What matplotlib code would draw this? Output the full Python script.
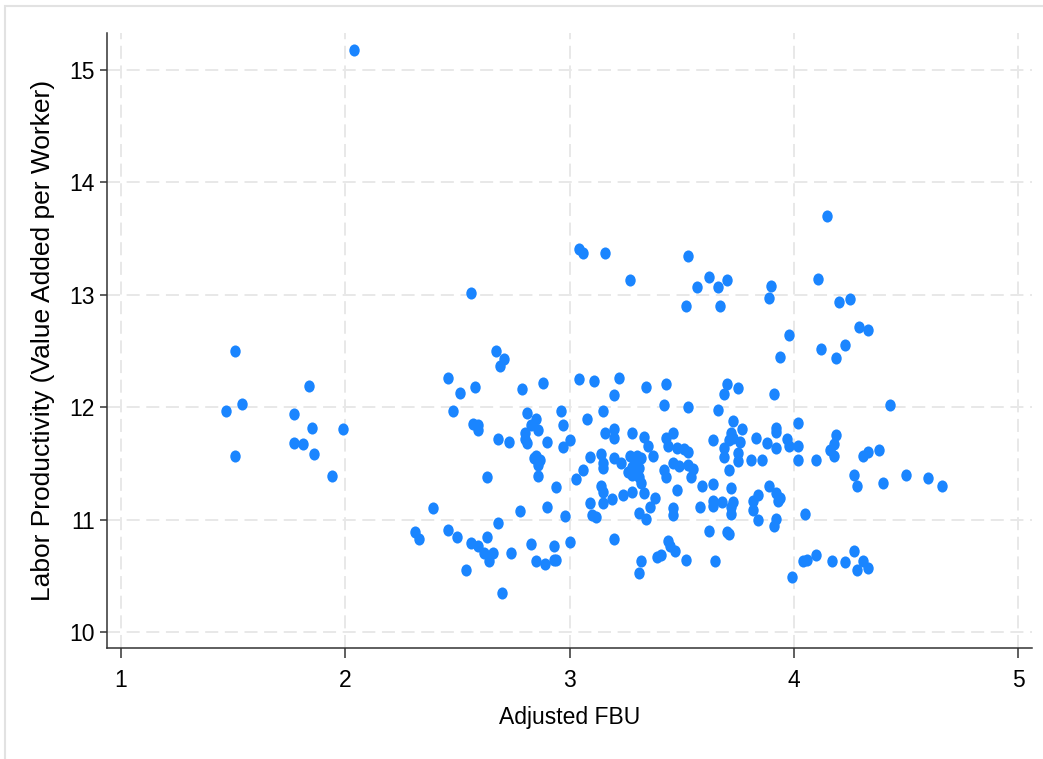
import matplotlib
matplotlib.use("Agg")
import matplotlib.pyplot as plt
import numpy as np
from matplotlib.patches import Rectangle
from matplotlib.path import Path
from matplotlib.transforms import Affine2D

# Adjusted FBU vs labor productivity, one row of pairs per region of the cloud
upper = [
    (2.04, 15.18), (3.04, 13.41), (3.06, 13.37), (3.16, 13.37), (3.27, 13.13),
    (3.53, 13.35), (3.52, 12.90), (3.57, 13.07), (3.62, 13.16), (3.66, 13.07),
    (3.70, 13.13), (3.67, 12.90), (3.90, 13.08), (3.89, 12.97), (4.11, 13.14),
    (4.15, 13.70), (4.20, 12.94), (4.25, 12.96), (4.29, 12.71), (4.33, 12.69),
    (3.98, 12.64), (4.12, 12.52), (4.23, 12.55), (4.19, 12.44), (3.94, 12.45),
    (2.56, 13.02), (2.67, 12.50), (2.71, 12.43), (2.69, 12.37), (4.43, 12.02),
    (3.43, 12.21), (3.34, 12.18), (3.22, 12.26), (3.11, 12.23), (3.04, 12.25),
    (3.20, 12.11), (3.75, 12.17), (3.70, 12.21), (3.69, 12.12), (3.91, 12.12),
    (2.46, 12.26), (2.48, 11.97), (2.51, 12.13), (2.58, 12.18), (2.79, 12.16),
    (2.88, 12.22),
]
left = [
    (1.51, 12.50), (1.47, 11.97), (1.54, 12.03), (1.51, 11.57), (1.84, 12.19),
    (1.77, 11.94), (1.85, 11.82), (1.77, 11.68), (1.81, 11.67), (1.86, 11.58),
    (1.99, 11.81), (1.94, 11.39), (2.39, 11.10),
]
mid_left = [
    (2.57, 11.85), (2.59, 11.84), (2.59, 11.80), (2.68, 11.72), (2.73, 11.69),
    (2.81, 11.95), (2.85, 11.90), (2.83, 11.84), (2.86, 11.80), (2.80, 11.77),
    (2.80, 11.72), (2.81, 11.68), (2.90, 11.69), (2.96, 11.97), (2.85, 11.57),
    (2.87, 11.53), (2.84, 11.55), (2.86, 11.49), (2.86, 11.39), (2.63, 11.38),
    (2.94, 11.29), (2.90, 11.11), (2.78, 11.08),
]
core = [
    (2.97, 11.84), (2.97, 11.65), (3.00, 11.71), (3.08, 11.90), (3.15, 11.97),
    (3.42, 12.02), (3.16, 11.77), (3.20, 11.81), (3.20, 11.73), (3.28, 11.77),
    (3.33, 11.74), (3.35, 11.66), (3.37, 11.57), (3.43, 11.73), (3.46, 11.77),
    (3.44, 11.66), (3.48, 11.64), (3.09, 11.56), (3.14, 11.58), (3.15, 11.50),
    (3.15, 11.46), (3.20, 11.55), (3.23, 11.50), (3.27, 11.57), (3.30, 11.57),
    (3.32, 11.55), (3.28, 11.47), (3.31, 11.46), (3.28, 11.40), (3.31, 11.38),
    (3.32, 11.33), (3.06, 11.44), (3.03, 11.36), (3.14, 11.30), (3.15, 11.25),
    (3.28, 11.25), (3.33, 11.24), (3.24, 11.22), (3.19, 11.18), (3.15, 11.15),
    (3.09, 11.15), (3.38, 11.19), (3.36, 11.11), (3.31, 11.06), (3.10, 11.04),
    (3.12, 11.02), (3.34, 11.01), (3.46, 11.10), (3.46, 11.04), (2.98, 11.03),
    (3.42, 11.44), (3.43, 11.38), (3.46, 11.50), (3.48, 11.26), (3.29, 11.51),
    (3.26, 11.42),
]
mid_right = [
    (3.53, 12.00), (3.66, 11.98), (3.73, 11.88), (3.77, 11.81), (3.72, 11.77),
    (3.73, 11.73), (3.76, 11.69), (3.71, 11.71), (3.83, 11.73), (3.88, 11.68),
    (3.92, 11.64), (3.92, 11.82), (3.92, 11.78), (3.97, 11.72), (3.98, 11.66),
    (4.02, 11.66), (4.02, 11.86), (4.02, 11.53), (3.64, 11.71), (3.53, 11.60),
    (3.51, 11.63), (3.69, 11.64), (3.69, 11.56), (3.75, 11.59), (3.75, 11.52),
    (3.81, 11.53), (3.86, 11.53), (3.49, 11.48), (3.53, 11.49), (3.55, 11.45),
    (3.54, 11.38), (3.71, 11.44), (3.59, 11.30), (3.64, 11.32), (3.72, 11.28),
    (3.89, 11.30), (3.92, 11.24), (3.94, 11.19), (3.84, 11.22), (3.82, 11.17),
    (3.82, 11.09), (3.93, 11.17), (3.64, 11.17), (3.64, 11.12), (3.68, 11.16),
    (3.73, 11.16), (3.72, 11.11), (3.72, 11.05), (3.58, 11.11), (3.84, 11.00),
    (3.92, 11.01), (3.91, 10.94),
]
right = [
    (4.10, 11.53), (4.19, 11.75), (4.18, 11.67), (4.16, 11.62), (4.18, 11.57),
    (4.31, 11.57), (4.33, 11.60), (4.38, 11.62), (4.27, 11.40), (4.28, 11.30),
    (4.40, 11.33), (4.05, 11.05), (4.50, 11.40), (4.60, 11.37), (4.66, 11.30),
]
lower = [
    (2.31, 10.89), (2.33, 10.83), (2.46, 10.91), (2.50, 10.85), (2.54, 10.55),
    (2.56, 10.79), (2.59, 10.77), (2.63, 10.85), (2.62, 10.70), (2.64, 10.63),
    (2.66, 10.70), (2.68, 10.97), (2.70, 10.35), (2.74, 10.70), (2.83, 10.78),
    (2.85, 10.63), (2.89, 10.61), (2.93, 10.77), (2.93, 10.64), (2.94, 10.64),
    (3.00, 10.80), (3.20, 10.83), (3.32, 10.63), (3.31, 10.53), (3.39, 10.67),
    (3.41, 10.69), (3.44, 10.81), (3.45, 10.77), (3.47, 10.72), (3.52, 10.64),
    (3.62, 10.90), (3.65, 10.63), (3.70, 10.89), (3.71, 10.87), (3.99, 10.49),
    (4.04, 10.63), (4.06, 10.64), (4.10, 10.69), (4.17, 10.63), (4.23, 10.62),
    (4.27, 10.72), (4.28, 10.55), (4.31, 10.63), (4.33, 10.57),
]

x_ticks = [1, 2, 3, 4, 5]
y_ticks = [10, 11, 12, 13, 14, 15]

pts = np.array(upper + left + mid_left + core + mid_right + right + lower)
fbu, prod = pts[:, 0], pts[:, 1]

font = ["Liberation Sans", "DejaVu Sans"]

# slightly tall dots
circle = Path.unit_circle()
dot = Affine2D().scale(0.86, 1.0).transform_path(circle)

fig = plt.figure(figsize=(10.43, 7.59), dpi=100)
ax = fig.add_axes([0.1026, 0.1462, 0.8869, 0.8103])

ax.scatter(fbu, prod, marker=dot, s=76, color="#1a85ff", linewidths=0, zorder=3)

ax.set_xlim(0.9376, 5.0624)
ax.set_ylim(9.858, 15.33)
ax.set_xticks(x_ticks)
ax.set_yticks(y_ticks)
ax.set_xticklabels([str(t) for t in x_ticks], family=font, fontsize=16.5)
ax.set_yticklabels([str(t) for t in y_ticks], family=font, fontsize=16.5)
ax.tick_params(axis="x", length=7, width=1.1, color="#333333", pad=8)
ax.tick_params(axis="y", length=5, width=1.1, color="#333333", pad=4)

ax.grid(True, color="#e8e8e8", linewidth=1.4, linestyle=(0, (6.7, 3.4)), zorder=0)
ax.set_axisbelow(True)

for side in ["top", "right"]:
    ax.spines[side].set_visible(False)
for side in ["left", "bottom"]:
    ax.spines[side].set_color("#333333")
    ax.spines[side].set_linewidth(1.1)

ax.set_xlabel("Adjusted FBU", family=font, fontsize=16.5, labelpad=10)
ax.set_ylabel("Labor Productivity (Value Added per Worker)", family=font,
              fontsize=19, labelpad=10)

# thin grey frame around the graph region
fig.patches.append(Rectangle((0.0048, -0.05), 1.2, 1.042, transform=fig.transFigure,
                             fill=False, edgecolor="#e2e2e2", linewidth=1.5))

fig.savefig("out.png", dpi=100)
